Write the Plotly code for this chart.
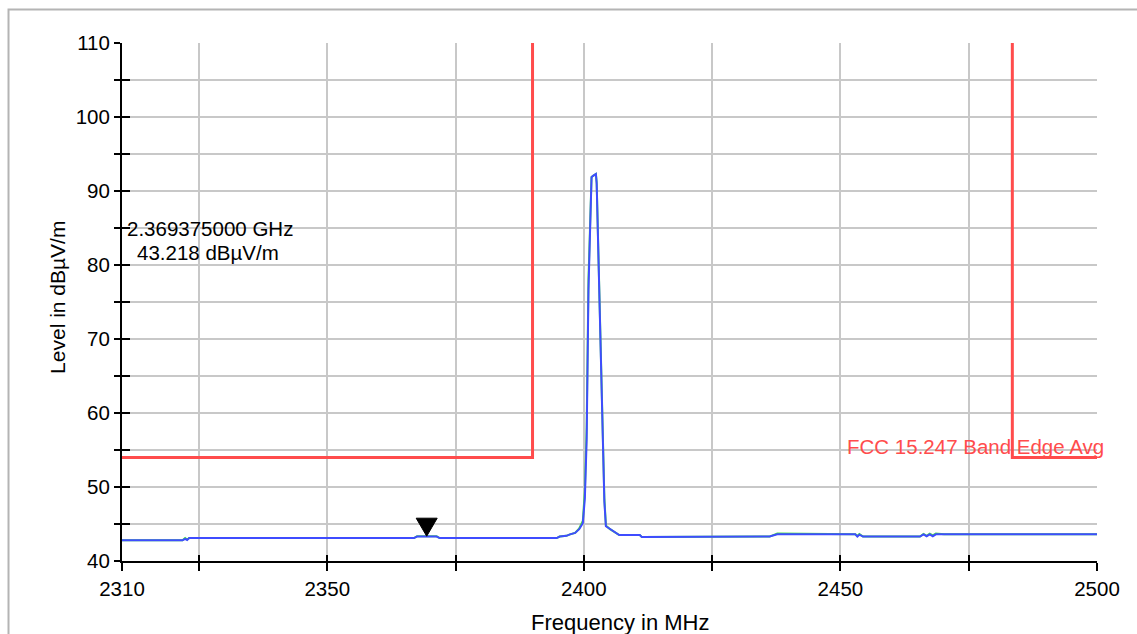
import plotly.graph_objects as go

# Spectrum sweep (MHz, dBµV/m)
freq_mhz = [2310, 2321.8, 2322.3, 2322.7, 2323.1, 2366.9, 2367.5, 2371.3, 2371.9,
            2394.7, 2395.3, 2396.6, 2397.3, 2398.3, 2399.1, 2399.8, 2400.2, 2400.55,
            2400.9, 2401.5, 2401.8, 2402.35, 2402.5, 2403.0, 2403.66, 2404.0, 2404.3,
            2405.1, 2406.9, 2410.9, 2411.3, 2436.2, 2437.7, 2452.9, 2453.3, 2453.7,
            2454.4, 2465.5, 2466.2, 2466.8, 2467.4, 2468.0, 2468.6, 2469.3, 2470.2, 2500]

avg_level = [42.8, 42.8, 43.0, 42.85, 43.1, 43.1, 43.3, 43.3, 43.1,
             43.1, 43.3, 43.4, 43.6, 43.8, 44.3, 45.1, 48.5, 56.4,
             76.6, 91.85, 92.05, 92.3, 91.0, 76.6, 56.4, 48.0, 44.7,
             44.3, 43.5, 43.5, 43.25, 43.3, 43.6, 43.6, 43.3, 43.55,
             43.3, 43.3, 43.6, 43.35, 43.6, 43.35, 43.6, 43.6, 43.6, 43.6]

peak_level = [42.8, 42.8, 43.1, 42.9, 43.1, 43.1, 43.35, 43.35, 43.1,
              43.1, 43.3, 43.4, 43.6, 43.8, 44.4, 45.4, 49.5, 58.0,
              78.0, 91.9, 92.05, 92.3, 91.2, 77.5, 57.0, 48.5, 44.8,
              44.3, 43.5, 43.5, 43.25, 43.3, 43.7, 43.6, 43.4, 43.65,
              43.3, 43.3, 43.65, 43.4, 43.7, 43.45, 43.7, 43.65, 43.6, 43.6]

# FCC 15.247 band-edge average limit
limit_freq = [2310, 2390, 2390, None, 2483.5, 2483.5, 2500]
limit_level = [54, 54, 110, None, 110, 54, 54]

# Marker readout
marker_freq = 2369.375
marker_level = 43.218

x_tickvals = [2310, 2325, 2350, 2375, 2400, 2425, 2450, 2475, 2500]
x_ticktext = ["2310", "", "2350", "", "2400", "", "2450", "", "2500"]
y_tickvals = [40, 45, 50, 55, 60, 65, 70, 75, 80, 85, 90, 95, 100, 105, 110]
y_ticktext = ["40", "", "50", "", "60", "", "70", "", "80", "", "90", "", "100", "", "110"]

FONT = "Arial, Liberation Sans, sans-serif"
GRID = "#c8c8c8"
FS = 20.5

fig = go.Figure()

fig.add_trace(go.Scatter(x=limit_freq, y=limit_level, mode="lines",
                         line=dict(color="#ff4c4c", width=3), hoverinfo="skip"))
fig.add_trace(go.Scatter(x=freq_mhz, y=peak_level, mode="lines",
                         line=dict(color="#44dd44", width=2), hoverinfo="skip"))
fig.add_trace(go.Scatter(x=freq_mhz, y=avg_level, mode="lines",
                         line=dict(color="#3f4cff", width=2), hoverinfo="skip"))
# companion axes carry the inward half of the tick marks
fig.add_trace(go.Scatter(x=[2310], y=[40], xaxis="x2", yaxis="y2", mode="markers",
                         marker=dict(opacity=0), hoverinfo="skip"))

fig.update_layout(
    width=1137, height=634,
    margin=dict(l=122, r=40, t=43, b=73, autoexpand=False),
    paper_bgcolor="white", plot_bgcolor="white",
    showlegend=False,
    font=dict(family=FONT, size=FS, color="black"),
    xaxis=dict(range=[2310, 2500], tickvals=x_tickvals, ticktext=x_ticktext,
               showline=True, linecolor="black", linewidth=2,
               ticks="outside", ticklen=8, tickwidth=2, tickcolor="black",
               showgrid=True, gridcolor=GRID, gridwidth=1.5, zeroline=False,
               automargin=False, tickfont=dict(size=FS)),
    yaxis=dict(range=[40, 110], tickvals=y_tickvals, ticktext=y_ticktext,
               showline=True, linecolor="black", linewidth=2,
               ticks="outside", ticklen=6, tickwidth=2, tickcolor="black",
               showgrid=True, gridcolor=GRID, gridwidth=1.5, zeroline=False,
               automargin=False, tickfont=dict(size=FS)),
    xaxis2=dict(range=[2310, 2500], overlaying="x", anchor="y2", tickvals=x_tickvals,
                showticklabels=False, ticks="inside", ticklen=6, tickwidth=2,
                tickcolor="black", showgrid=False, zeroline=False, showline=False),
    yaxis2=dict(range=[40, 110], overlaying="y", anchor="x2", tickvals=y_tickvals,
                showticklabels=False, ticks="inside", ticklen=8, tickwidth=2,
                tickcolor="black", showgrid=False, zeroline=False, showline=False),
)

# outer frame of the display
fig.add_shape(type="rect", xref="paper", yref="paper",
              x0=-0.1164, y0=-0.5, x1=1.5, y1=1.0647,
              line=dict(color="#b4b4b4", width=2), fillcolor="rgba(0,0,0,0)",
              layer="below")

# marker triangle, tip sitting on the trace
fig.add_shape(type="path", xref="x", yref="y",
              xsizemode="pixel", ysizemode="pixel",
              xanchor=marker_freq, yanchor=marker_level,
              path="M -10.5,19 L 10.5,19 L 0,1 Z",
              fillcolor="black", line=dict(color="black", width=1))

fig.add_annotation(xref="paper", yref="paper", x=0.003, y=0.641,
                   xanchor="left", yanchor="middle", showarrow=False,
                   text=f"{marker_freq / 1000:.9f} GHz", font=dict(size=FS))
fig.add_annotation(xref="paper", yref="paper", x=0.0133, y=0.5965,
                   xanchor="left", yanchor="middle", showarrow=False,
                   text=f"{marker_level:.3f} dBµV/m", font=dict(size=FS))

fig.add_annotation(xref="x", yref="y", x=2450.9, y=55.45,
                   xanchor="left", yanchor="middle", showarrow=False,
                   text="FCC 15.247 Band Edge Avg",
                   font=dict(size=FS, color="#ff4c4c"))

# axis titles
fig.add_annotation(xref="paper", yref="paper", x=0.5108, y=-0.119,
                   xanchor="center", yanchor="middle", showarrow=False,
                   text="Frequency in MHz", font=dict(size=22))
fig.add_annotation(xref="paper", yref="paper", x=-0.0656, y=0.508,
                   xanchor="center", yanchor="middle", showarrow=False,
                   textangle=-90, text="Level in dBµV/m", font=dict(size=21))

fig.write_html("out.html")
